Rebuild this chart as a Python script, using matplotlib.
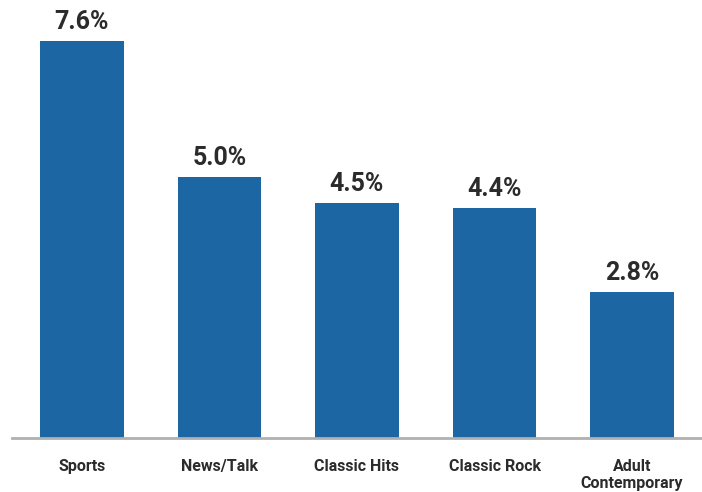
import matplotlib
matplotlib.use("Agg")
import matplotlib.pyplot as plt

categories = ['Sports', 'News/Talk', 'Classic Hits', 'Classic Rock', 'Adult\nContemporary']
values = [7.6, 5.0, 4.5, 4.4, 2.8]

BAR_COLOR = '#1c67a3'
TEXT_COLOR = '#2b2b2b'

fig = plt.figure(figsize=(7.02, 4.92), dpi=100)
ax = fig.add_axes([12 / 702, 1 - 438 / 492, 1 - 12 / 702, 438 / 492])

x = list(range(len(categories)))
ax.bar(x, values, width=0.61, color=BAR_COLOR)

for xi, v in zip(x, values):
    ax.annotate(f'{v:.1f}%', (xi, v), xytext=(0, 5), textcoords='offset points',
                ha='center', va='bottom', fontsize=18, fontweight='bold',
                color=TEXT_COLOR, family=['Roboto', 'DejaVu Sans'])

ax.set_xlim(-0.509, 4.509)
ax.set_ylim(0, 8.385)

ax.set_xticks(x)
ax.set_xticklabels(categories, fontsize=11.5, fontweight='bold', color=TEXT_COLOR,
                   family=['Roboto', 'DejaVu Sans'], linespacing=1.2, va='top')
ax.tick_params(axis='x', length=0, pad=15)
ax.set_yticks([])

for side in ['top', 'right', 'left']:
    ax.spines[side].set_visible(False)
ax.spines['bottom'].set_color('#b0b0b0')
ax.spines['bottom'].set_linewidth(2)

plt.savefig('out.png', dpi=100)
plt.close()
